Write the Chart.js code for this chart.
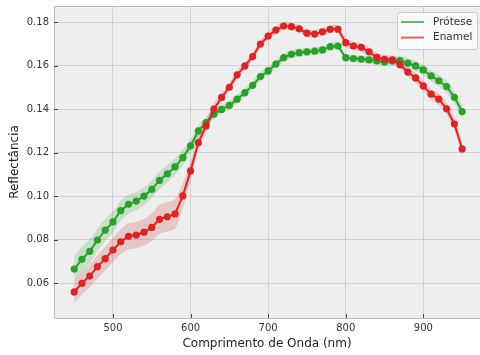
<!DOCTYPE html>
<html>
<head>
<meta charset="utf-8">
<script src="https://cdn.jsdelivr.net/npm/chart.js@4"></script>
<style>
  html, body { margin: 0; padding: 0; background: #fff; overflow: hidden; width: 480px; height: 355px; }
</style>
</head>
<body>
<canvas id="spectraChart" width="484" height="355"></canvas>
<script>
const wavelengths = [450, 460, 470, 480, 490, 500, 510, 520, 530, 540,
    550, 560, 570, 580, 590, 600, 610, 620, 630, 640,
    650, 660, 670, 680, 690, 700, 710, 720, 730, 740,
    750, 760, 770, 780, 790, 800, 810, 820, 830, 840,
    850, 860, 870, 880, 890, 900, 910, 920, 930, 940, 950];

const proteseMean = [0.0664, 0.0709, 0.0746, 0.0798, 0.0843, 0.0881, 0.0933, 0.0962, 0.0977, 0.1000,
    0.1031, 0.1072, 0.1103, 0.1135, 0.1177, 0.1231, 0.1300, 0.1338, 0.1377, 0.1399,
    0.1418, 0.1446, 0.1476, 0.1510, 0.1550, 0.1576, 0.1608, 0.1637, 0.1653, 0.1660,
    0.1664, 0.1667, 0.1673, 0.1688, 0.1691, 0.1637, 0.1633, 0.1630, 0.1627, 0.1622,
    0.1617, 0.1622, 0.1624, 0.1612, 0.1599, 0.1581, 0.1553, 0.1531, 0.1504, 0.1455, 0.1389];

const proteseStd = [0.0060, 0.0058, 0.0055, 0.0052, 0.0050, 0.0048, 0.0046, 0.0044, 0.0042, 0.0041,
    0.0040, 0.0040, 0.0040, 0.0038, 0.0035, 0.0031, 0.0028, 0.0025, 0.0022, 0.0020,
    0.0020, 0.0020, 0.0020, 0.0020, 0.0020, 0.0020, 0.0019, 0.0018, 0.0018, 0.0018,
    0.0018, 0.0018, 0.0018, 0.0018, 0.0018, 0.0016, 0.0016, 0.0016, 0.0017, 0.0018,
    0.0019, 0.0020, 0.0021, 0.0022, 0.0023, 0.0024, 0.0025, 0.0026, 0.0027, 0.0028, 0.0030];

const enamelMean = [0.0559, 0.0599, 0.0632, 0.0675, 0.0712, 0.0752, 0.0790, 0.0815, 0.0821, 0.0834,
    0.0856, 0.0893, 0.0905, 0.0918, 0.1001, 0.1116, 0.1246, 0.1323, 0.1400, 0.1454,
    0.1501, 0.1558, 0.1599, 0.1642, 0.1700, 0.1737, 0.1764, 0.1783, 0.1780, 0.1770,
    0.1750, 0.1746, 0.1756, 0.1768, 0.1768, 0.1706, 0.1691, 0.1685, 0.1664, 0.1639,
    0.1630, 0.1627, 0.1605, 0.1571, 0.1544, 0.1507, 0.1469, 0.1446, 0.1402, 0.1332, 0.1217];

const enamelStd = [0.0052, 0.0052, 0.0052, 0.0053, 0.0054, 0.0056, 0.0058, 0.0060, 0.0061, 0.0062,
    0.0064, 0.0066, 0.0068, 0.0068, 0.0058, 0.0045, 0.0036, 0.0030, 0.0026, 0.0023,
    0.0021, 0.0020, 0.0019, 0.0019, 0.0018, 0.0018, 0.0018, 0.0018, 0.0018, 0.0018,
    0.0018, 0.0018, 0.0018, 0.0018, 0.0018, 0.0020, 0.0020, 0.0020, 0.0020, 0.0020,
    0.0020, 0.0020, 0.0021, 0.0022, 0.0023, 0.0024, 0.0025, 0.0026, 0.0027, 0.0029, 0.0032];

const xTicks = [500, 600, 700, 800, 900];
const yTicks = [0.06, 0.08, 0.10, 0.12, 0.14, 0.16, 0.18];

const GREEN = '#2ca02c';
const RED = '#d62728';
const FONT = 'DejaVu Sans';
const GRID = '#d2d2d2';

const pts = (mean, std, sign) => wavelengths.map((w, i) => ({ x: w, y: mean[i] + sign * std[i] }));

function lineSet(label, mean, color) {
    return {
        label: label,
        data: wavelengths.map((w, i) => ({ x: w, y: mean[i] })),
        borderColor: color,
        backgroundColor: color,
        borderWidth: 2,
        pointRadius: 3.6,
        pointBorderWidth: 0,
        pointBackgroundColor: color,
        tension: 0,
        fill: false
    };
}

function bandSet(mean, std, sign, fillColor) {
    return {
        label: '',
        data: pts(mean, std, sign),
        borderWidth: 0,
        borderColor: 'rgba(0,0,0,0)',
        pointRadius: 0,
        backgroundColor: fillColor,
        tension: 0.3,
        fill: sign > 0 ? '+1' : false
    };
}

// plot background, frame, inward tick marks and legend
const framePlugin = {
    id: 'frame',
    beforeDraw(chart) {
        const { ctx, chartArea: a } = chart;
        ctx.save();
        ctx.fillStyle = '#eeeeee';
        ctx.fillRect(a.left, a.top, a.right - a.left, a.bottom - a.top);
        ctx.restore();
    },
    afterDraw(chart) {
        const { ctx, chartArea: a } = chart;
        ctx.save();
        ctx.strokeStyle = '#bcbcbc';
        ctx.lineWidth = 1;
        ctx.beginPath();
        ctx.moveTo(a.right, a.top + 0.5);
        ctx.lineTo(a.left + 0.5, a.top + 0.5);
        ctx.lineTo(a.left + 0.5, a.bottom + 0.5);
        ctx.lineTo(a.right, a.bottom + 0.5);
        ctx.stroke();

        ctx.strokeStyle = '#444';
        const xs = chart.scales.x, ys = chart.scales.y;
        xTicks.forEach(v => {
            const px = Math.round(xs.getPixelForValue(v)) + 0.5;
            ctx.beginPath();
            ctx.moveTo(px, a.bottom);
            ctx.lineTo(px, a.bottom - 4);
            ctx.stroke();
        });
        yTicks.forEach(v => {
            const py = Math.round(ys.getPixelForValue(v)) + 0.5;
            ctx.beginPath();
            ctx.moveTo(a.left, py);
            ctx.lineTo(a.left + 4, py);
            ctx.stroke();
        });

        // legend
        const bx = 397, by = 12, bw = 80, bh = 37;
        ctx.fillStyle = 'rgba(250,250,250,0.85)';
        ctx.strokeStyle = '#cccccc';
        ctx.beginPath();
        ctx.roundRect(bx + 0.5, by + 0.5, bw, bh, 3);
        ctx.fill();
        ctx.stroke();
        const items = [['Prótese', 'rgba(44,160,44,0.7)'], ['Enamel', 'rgba(214,39,40,0.7)']];
        ctx.font = '10.5px "' + FONT + '"';
        ctx.textBaseline = 'middle';
        items.forEach(([txt, col], i) => {
            const y = by + 10 + i * 15.6;
            ctx.strokeStyle = col;
            ctx.lineWidth = 2;
            ctx.beginPath();
            ctx.moveTo(bx + 4, y);
            ctx.lineTo(bx + 27, y);
            ctx.stroke();
            ctx.fillStyle = '#333';
            ctx.fillText(txt, bx + 36, y);
        });
        ctx.restore();
    }
};

const ctx = document.getElementById('spectraChart').getContext('2d');
new Chart(ctx, {
    type: 'line',
    data: {
        datasets: [
            lineSet('Enamel', enamelMean, RED),
            bandSet(enamelMean, enamelStd, 1, 'rgba(214,39,40,0.2)'),
            bandSet(enamelMean, enamelStd, -1, 'rgba(214,39,40,0.2)'),
            lineSet('Prótese', proteseMean, GREEN),
            bandSet(proteseMean, proteseStd, 1, 'rgba(44,160,44,0.2)'),
            bandSet(proteseMean, proteseStd, -1, 'rgba(44,160,44,0.2)')
        ]
    },
    options: {
        responsive: false,
        devicePixelRatio: 1,
        animation: false,
        layout: { padding: { top: 6, right: 0, left: 0, bottom: 0 } },
        plugins: {
            legend: { display: false },
            tooltip: { enabled: false }
        },
        scales: {
            x: {
                type: 'linear',
                min: 424,
                max: 973,
                afterBuildTicks: s => { s.ticks = xTicks.map(v => ({ value: v })); },
                afterFit: s => { s.height = 37; s.paddingLeft = 0; s.paddingRight = 0; },
                grid: {
                    color: GRID,
                    lineWidth: 1,
                    borderDash: [3, 3],
                    drawTicks: false
                },
                border: { display: false },
                ticks: {
                    padding: 4,
                    maxRotation: 0,
                    color: '#333',
                    font: { family: FONT, size: 10 },
                    callback: v => String(v)
                },
                title: {
                    display: true,
                    text: 'Comprimento de Onda (nm)',
                    color: '#222',
                    font: { family: FONT, size: 12 },
                    padding: { top: 0, bottom: 4 }
                }
            },
            y: {
                type: 'linear',
                min: 0.0439,
                max: 0.1875,
                afterBuildTicks: s => { s.ticks = yTicks.map(v => ({ value: v })); },
                afterFit: s => { s.width = 54; s.paddingTop = 0; s.paddingBottom = 0; },
                grid: {
                    color: GRID,
                    lineWidth: 1,
                    borderDash: [3, 3],
                    drawTicks: false
                },
                border: { display: false },
                ticks: {
                    padding: 5,
                    color: '#333',
                    font: { family: FONT, size: 10 },
                    callback: v => v.toFixed(2)
                },
                title: {
                    display: true,
                    text: 'Reflectância',
                    color: '#222',
                    font: { family: FONT, size: 12 },
                    padding: { top: 8, bottom: 0 }
                }
            }
        }
    },
    plugins: [framePlugin]
});
</script>
</body>
</html>
